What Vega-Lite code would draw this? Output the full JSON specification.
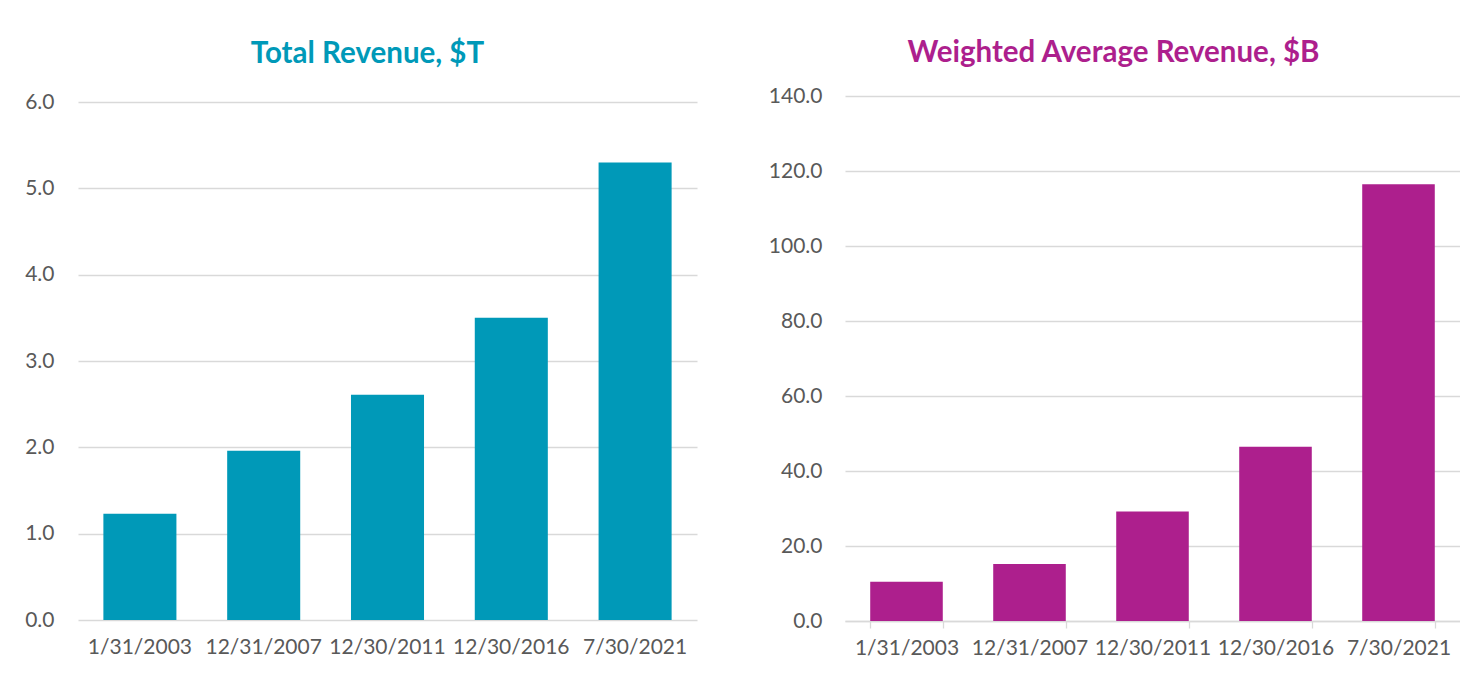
{
  "$schema": "https://vega.github.io/schema/vega-lite/v6.json",
  "padding": {"left": 8, "top": 37, "right": 0, "bottom": 0},
  "background": "white",
  "data": {
    "values": [
      {"date": "1/31/2003", "total": 1.23, "weighted": 10.5},
      {"date": "12/31/2007", "total": 1.96, "weighted": 15.2},
      {"date": "12/30/2011", "total": 2.61, "weighted": 29.2},
      {"date": "12/30/2016", "total": 3.5, "weighted": 46.5},
      {"date": "7/30/2021", "total": 5.3, "weighted": 116.5}
    ]
  },
  "config": {
    "view": {"stroke": null},
    "font": "Lato",
    "axis": {
      "labelFont": "Lato",
      "labelFontSize": 21,
      "labelColor": "#595959",
      "gridColor": "#D9D9D9",
      "gridWidth": 1.3,
      "gridOpacity": 1,
      "title": null
    },
    "concat": {"spacing": 71}
  },
  "hconcat": [
    {
      "width": 619,
      "height": 524,
      "title": {
        "text": "Total Revenue, $T",
        "color": "#0099B8",
        "fontSize": 29.5,
        "font": "Lato",
        "fontWeight": "bold",
        "anchor": "middle",
        "dx": -20,
        "frame": "group",
        "offset": -1,
        "baseline": "alphabetic"
      },
      "mark": {"type": "bar", "color": "#0099B8"},
      "encoding": {
        "x": {
          "field": "date",
          "type": "ordinal",
          "sort": null,
          "title": null,
          "scale": {"paddingInner": 0.41, "paddingOuter": 0.205},
          "axis": {"labelAngle": 0, "ticks": false, "domain": false, "grid": false, "labelPadding": 16}
        },
        "y": {
          "field": "total",
          "type": "quantitative",
          "title": null,
          "scale": {"domain": [0, 6.07], "nice": false},
          "axis": {
            "values": [0, 1, 2, 3, 4, 5, 6],
            "format": ".1f",
            "ticks": false,
            "domain": false,
            "labelPadding": 24,
            "minExtent": 70,
            "maxExtent": 70
          }
        }
      }
    },
    {
      "width": 615,
      "height": 525,
      "title": {
        "text": "Weighted Average Revenue, $B",
        "color": "#AD1F8D",
        "fontSize": 29.5,
        "font": "Lato",
        "fontWeight": "bold",
        "anchor": "middle",
        "dx": -39,
        "frame": "group",
        "offset": -6,
        "baseline": "alphabetic"
      },
      "mark": {"type": "bar", "color": "#AD1F8D"},
      "encoding": {
        "x": {
          "field": "date",
          "type": "ordinal",
          "sort": null,
          "title": null,
          "scale": {"paddingInner": 0.41, "paddingOuter": 0.205},
          "axis": {
            "labelAngle": 0,
            "ticks": true,
            "tickBand": "extent",
            "tickSize": 7,
            "tickColor": "#D9D9D9",
            "tickWidth": 1.3,
            "domain": true,
            "domainColor": "#D9D9D9",
            "domainWidth": 1.3,
            "grid": false,
            "labelPadding": 9
          }
        },
        "y": {
          "field": "weighted",
          "type": "quantitative",
          "title": null,
          "scale": {"domain": [0, 140], "nice": false},
          "axis": {
            "values": [0, 20, 40, 60, 80, 100, 120, 140],
            "format": ".1f",
            "ticks": false,
            "domain": false,
            "labelPadding": 23,
            "minExtent": 77,
            "maxExtent": 77
          }
        }
      }
    }
  ]
}
